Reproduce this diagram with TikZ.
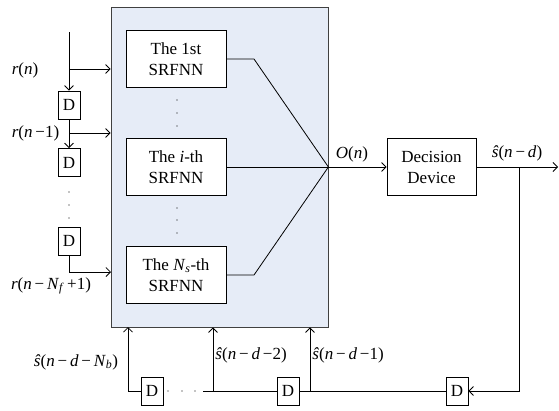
\documentclass[tikz,border=0pt]{standalone}
\usepackage{fontspec}
\setmainfont{Liberation Serif}
\usetikzlibrary{arrows.meta}
\definecolor{panel}{RGB}{230,236,247}
\begin{document}
\begin{tikzpicture}[x=1pt,y=-1pt, line width=0.8pt,
  >={Straight Barb[length=4.5pt,width=9pt]},
  blk/.style={draw, fill=white, minimum width=100pt, minimum height=57pt, align=center, font=\fontsize{17}{21}\selectfont, inner sep=0pt},
  dly/.style={draw, fill=white, minimum width=22pt, minimum height=28pt, inner sep=0pt, font=\fontsize{17}{20}\selectfont},
  lbl/.style={font=\fontsize{17}{20}\selectfont, inner sep=0pt},
  dot/.style={circle, fill=black, inner sep=0pt, minimum size=1.3pt}]
\useasboundingbox (0,0) rectangle (559,410);

% main panel
\node[draw=black!75, fill=panel, minimum width=217pt, minimum height=320pt, inner sep=0pt] (big) at (219.5,167) {};

% SRFNN blocks
\node[blk] (s1) at (176,59) {The 1st\\SRFNN};
\node[blk] (s2) at (176,167) {The \textit{i}-th\\SRFNN};
\node[blk] (s3) at (176,275) {The \textit{N}\textsubscript{\textit{s}}-th\\SRFNN};
\foreach \yy [count=\k] in {100,113,126,208,220,233} \node[dot] (vd\k) at (177,\yy) {};

\coordinate (b1) at (254,59);
\coordinate (b3) at (254,275);
\draw (s1.east) -- (b1) -- (big.east);
\draw (s2.east) -- (big.east);
\draw (s3.east) -- (b3) -- (big.east);

% decision device
\node[blk, minimum width=89pt] (dd) at (431.5,167) {Decision\\Device};
\coordinate (out) at (558,167);
\coordinate (fb) at (519,167);
\draw[->] (big.east) -- (dd.west);
\draw[->] (dd.east) -- (out);
\node[lbl] (lo) at (352,154) {\textit{O}(\textit{n})};
\node[lbl] (lsh) at (517,153) {\textit{ŝ}(\textit{n}\,−\,\textit{d})};

% left delay line
\node[dly] (dl1) at (69,105) {D};
\node[dly] (dl2) at (69,162.5) {D};
\node[dly] (dl3) at (69,241) {D};
\foreach \yy [count=\k] in {192,205,218} \node[dot] (hd\k) at (69,\yy) {};
\coordinate (top) at (69,32);
\coordinate (a1) at (69,69);
\coordinate (a2) at (69,133);
\coordinate (a3) at (111,272);
\draw[->] (top) -- (dl1.north);
\draw[->] (a1) -- (a1 -| big.west);
\draw[->] (dl1.south) -- (dl2.north);
\draw[->] (a2) -- (a2 -| big.west);
\draw[->] (dl3.south) |- (a3);
\node[lbl] (lr0) at (25,70) {\textit{r}(\textit{n})};
\node[lbl] (lr1) at (35.5,133) {\textit{r}(\textit{n}\,−1)};
\node[lbl] (lr2) at (51,286) {\textit{r}(\textit{n}\,−\,\textit{N}\textsubscript{\textit{f}}\,+1)};

% bottom delay line
\node[dly] (db1) at (152,391) {D};
\node[dly] (db2) at (288,391) {D};
\node[dly] (db3) at (457,391) {D};
\draw[->] (fb) |- (db3.east);
\draw (db3.west) -- (db2.east);
\coordinate (t2) at (310,391);
\draw[->] (t2) -- (t2 |- big.south);
\coordinate (t1s) at (203,391);
\coordinate (t1) at (213,391);
\draw (db2.west) -- (t1s);
\draw[->] (t1) -- (t1 |- big.south);
\foreach \xx [count=\k] in {168,182,195} \node[dot] (bd\k) at (\xx,391) {};
\coordinate (c1) at (128,327);
\draw[->] (db1.west) -| (c1);
\node[lbl] (ls0) at (76,362) {\textit{ŝ}(\textit{n}\,−\,\textit{d}\,−\,\textit{N}\textsubscript{\textit{b}})};
\node[lbl, anchor=west] (ls2) at (215,355) {\textit{ŝ}(\textit{n}\,−\,\textit{d}\,−2)};
\node[lbl, anchor=west] (ls1) at (312,355) {\textit{ŝ}(\textit{n}\,−\,\textit{d}\,−1)};
\end{tikzpicture}
\end{document}
